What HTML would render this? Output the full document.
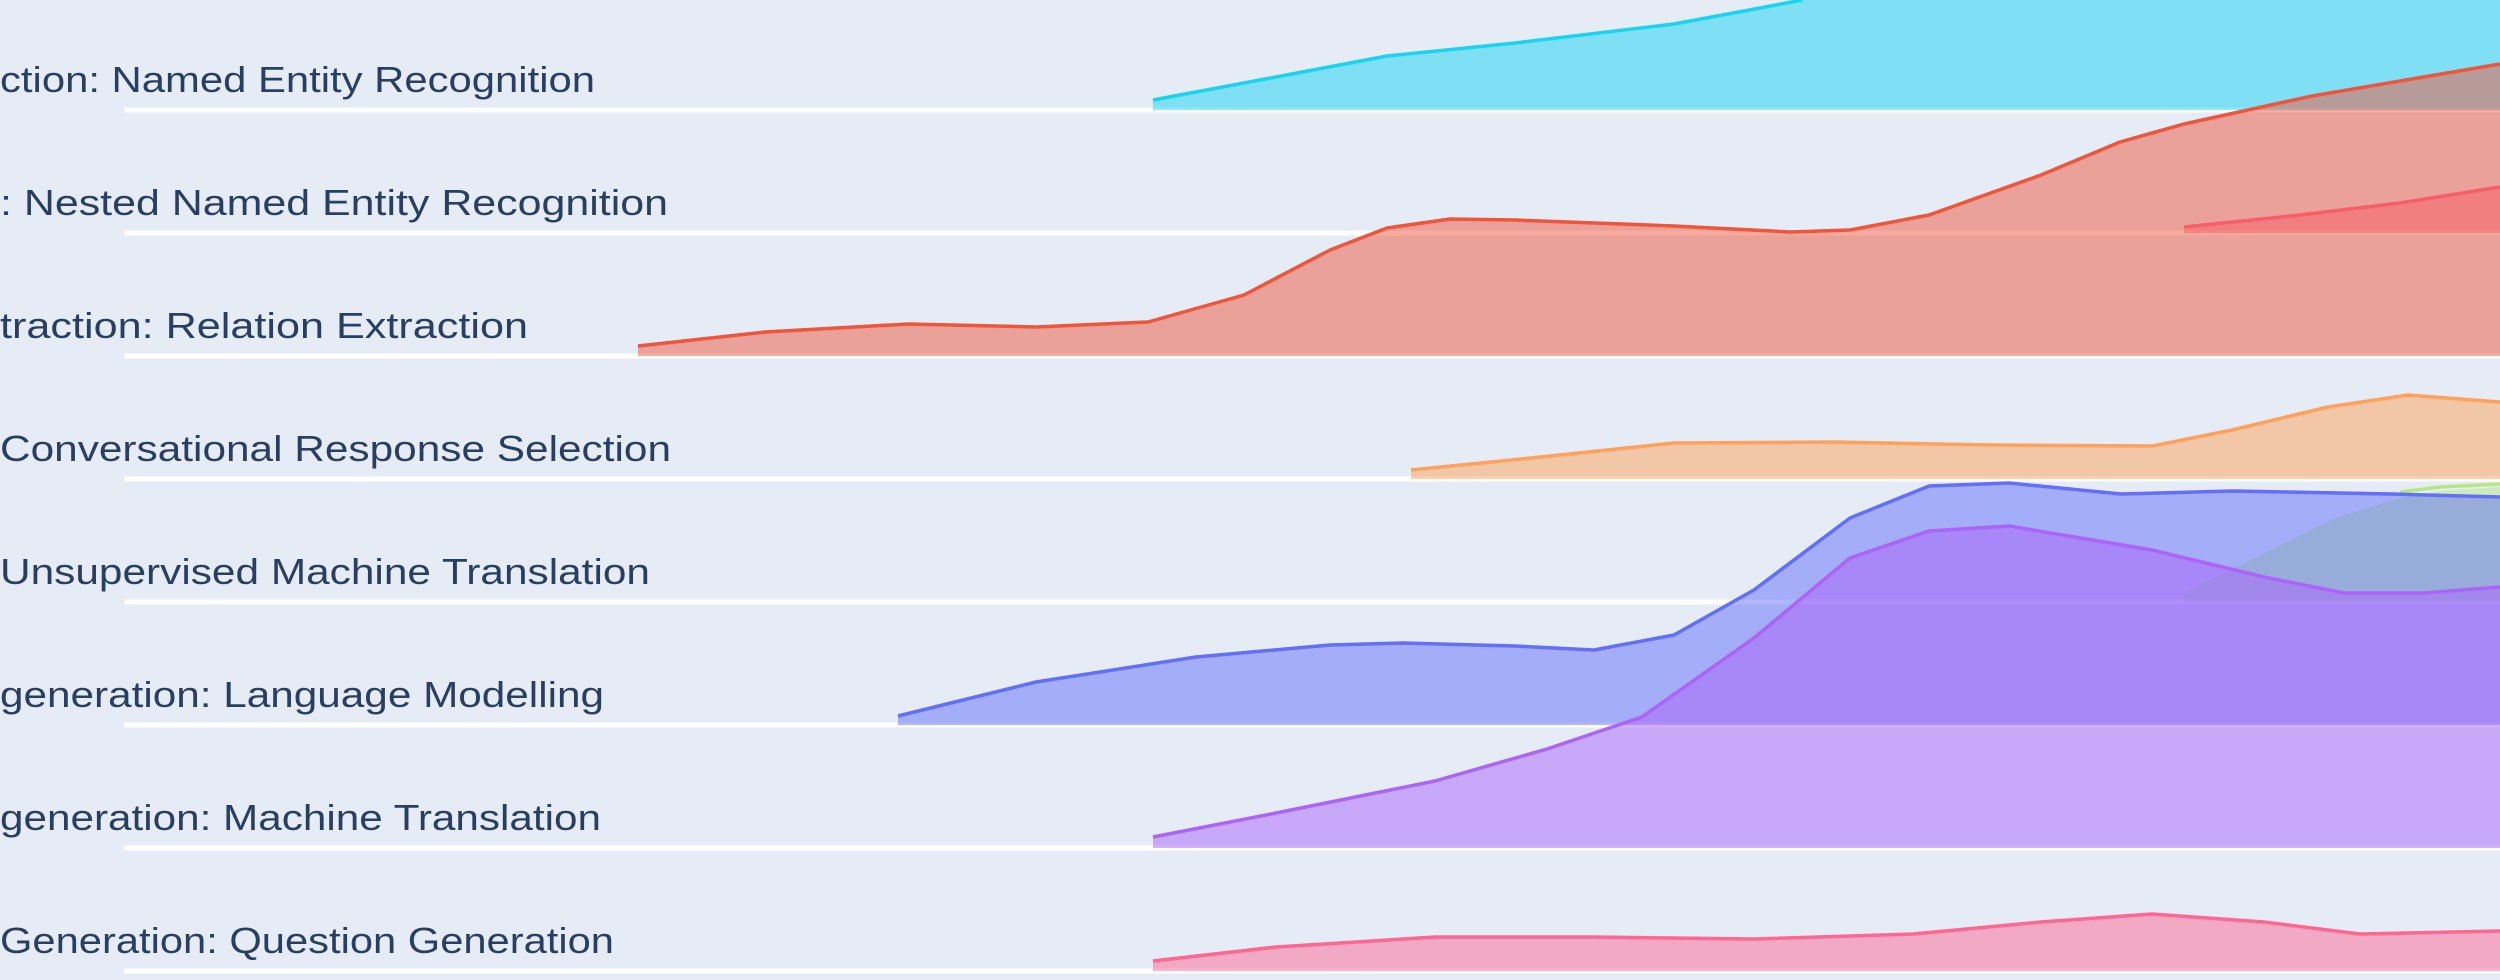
<!DOCTYPE html>
<html><head><meta charset="utf-8"><style>
html,body{margin:0;padding:0;background:#e5ecf6;}
svg{display:block}
text{font-family:"Liberation Sans",sans-serif;font-size:36px;fill:#2a3f5f}
</style></head><body>
<svg width="2500" height="980" viewBox="0 0 2500 980" xmlns="http://www.w3.org/2000/svg">
<rect width="2500" height="980" fill="#e5ecf6"/>
<g stroke="#ffffff" stroke-width="5">
<line x1="124" y1="110" x2="2500" y2="110"/>
<line x1="124" y1="233" x2="2500" y2="233"/>
<line x1="124" y1="356" x2="2500" y2="356"/>
<line x1="124" y1="479" x2="2500" y2="479"/>
<line x1="124" y1="602" x2="2500" y2="602"/>
<line x1="124" y1="725" x2="2500" y2="725"/>
<line x1="124" y1="848" x2="2500" y2="848"/>
<line x1="124" y1="971" x2="2500" y2="971"/>
</g>
<g stroke-width="3.5" stroke-linejoin="round" fill-opacity="0.5">
<path d="M1153,100 L1276,77 L1387,56 L1515,43 L1674,24 L1760,8 L1802,0 L2500,0 L2500,110 L1153,110 Z" fill="#19d3f3" stroke="none"/>
<path d="M1153,100 L1276,77 L1387,56 L1515,43 L1674,24 L1760,8 L1802,0" fill="none" stroke="#19d3f3"/>
<path d="M2184,227 L2300,215 L2400,203 L2500,187 L2500,233 L2184,233 Z" fill="#ff6692" stroke="none"/>
<path d="M2184,227 L2300,215 L2400,203 L2500,187" fill="none" stroke="#ff6692"/>
<path d="M638,346 L765,332 L909,324 L1036,327 L1148,322 L1244,295 L1330,250 L1387,228 L1450,219 L1515,220 L1674,226 L1790,232 L1850,230 L1929,215 L2041,175 L2120,142 L2184,124 L2312,96 L2500,64 L2500,356 L638,356 Z" fill="#ef553b" stroke="none"/>
<path d="M638,346 L765,332 L909,324 L1036,327 L1148,322 L1244,295 L1330,250 L1387,228 L1450,219 L1515,220 L1674,226 L1790,232 L1850,230 L1929,215 L2041,175 L2120,142 L2184,124 L2312,96 L2500,64" fill="none" stroke="#ef553b"/>
<path d="M1411,470 L1531,458 L1674,443 L1834,442 L1993,445 L2152,446 L2232,430 L2328,407 L2408,395 L2500,402 L2500,479 L1411,479 Z" fill="#ffa15a" stroke="none"/>
<path d="M1411,470 L1531,458 L1674,443 L1834,442 L1993,445 L2152,446 L2232,430 L2328,407 L2408,395 L2500,402" fill="none" stroke="#ffa15a"/>
<path d="M2184,593 L2260,555 L2330,520 L2400,498 L2440,491 L2500,487 L2500,602 L2184,602 Z" fill="#b6e880" stroke="none"/>
<path d="M2400,492 L2440,487 L2500,484" fill="none" stroke="#b6e880"/>
<path d="M898,716 L1036,682 L1196,657 L1330,645 L1403,643 L1515,646 L1594,650 L1674,635 L1754,590 L1850,518 L1929,486 L2009,483 L2121,494 L2232,491 L2392,494 L2500,497 L2500,725 L898,725 Z" fill="#636efa" stroke="none"/>
<path d="M898,716 L1036,682 L1196,657 L1330,645 L1403,643 L1515,646 L1594,650 L1674,635 L1754,590 L1850,518 L1929,486 L2009,483 L2121,494 L2232,491 L2392,494 L2500,497" fill="none" stroke="#636efa"/>
<path d="M1153,837 L1276,813 L1435,781 L1547,749 L1642,717 L1754,638 L1850,558 L1929,531 L2009,526 L2152,550 L2264,577 L2344,593 L2424,593 L2500,587 L2500,848 L1153,848 Z" fill="#ab63fa" stroke="none"/>
<path d="M1153,837 L1276,813 L1435,781 L1547,749 L1642,717 L1754,638 L1850,558 L1929,531 L2009,526 L2152,550 L2264,577 L2344,593 L2424,593 L2500,587" fill="none" stroke="#ab63fa"/>
<path d="M1153,961 L1276,947 L1435,937 L1594,937 L1754,939 L1913,934 L2041,922 L2152,914 L2264,922 L2360,934 L2500,931 L2500,971 L1153,971 Z" fill="#ff6692" stroke="none"/>
<path d="M1153,961 L1276,947 L1435,937 L1594,937 L1754,939 L1913,934 L2041,922 L2152,914 L2264,922 L2360,934 L2500,931" fill="none" stroke="#ff6692"/>
</g>
<g>
<text x="0" y="92" textLength="595" lengthAdjust="spacingAndGlyphs">ction: Named Entity Recognition</text>
<text x="0" y="215" textLength="668" lengthAdjust="spacingAndGlyphs">: Nested Named Entity Recognition</text>
<text x="0" y="338" textLength="528" lengthAdjust="spacingAndGlyphs">traction: Relation Extraction</text>
<text x="0" y="461" textLength="671" lengthAdjust="spacingAndGlyphs">Conversational Response Selection</text>
<text x="0" y="584" textLength="650" lengthAdjust="spacingAndGlyphs">Unsupervised Machine Translation</text>
<text x="0" y="707" textLength="604" lengthAdjust="spacingAndGlyphs">generation: Language Modelling</text>
<text x="0" y="830" textLength="601" lengthAdjust="spacingAndGlyphs">generation: Machine Translation</text>
<text x="0" y="953" textLength="614" lengthAdjust="spacingAndGlyphs">Generation: Question Generation</text>
</g>
</svg>
</body></html>
